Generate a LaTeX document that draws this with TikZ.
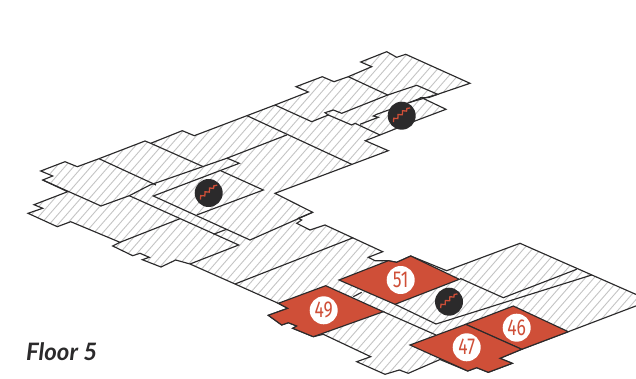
\documentclass[tikz,border=0pt]{standalone}
\usepackage{fontspec}
\setmainfont{Lato}
\newfontfamily\numfont[FakeStretch=0.76]{Fira Sans}
\definecolor{redroom}{HTML}{CF4F38}
\definecolor{ink}{HTML}{2B2A2B}
\definecolor{hatch}{HTML}{C4C4C4}
\tikzset{
  wall/.style={draw=ink,line width=1.15pt,line join=miter},
  roomfill/.style={fill=redroom,wall},
  stairdisc/.style={circle,fill=ink,minimum size=28pt,inner sep=0pt},
  numdisc/.style={circle,fill=white,minimum size=28pt,inner sep=0pt,text=redroom,font=\numfont\fontsize{23}{23}\selectfont},
  zig/.style={draw=redroom,line width=1.3pt}
}
\newcommand{\outline}{(42.7,180)--(52.7,176)--(40.7,171)--(65,161.7)--(77.3,166.7)--(99,158.7)--(145,141)--(150.7,143.3)--(182.3,130.7)--(194.3,135.7)--(275,105)--(308.3,92)--(296,86.7)--(322.3,76.7)--(334,81.7)--(348.3,76.7)--(371.7,66.7)--(360.7,62)--(386.7,51.7)--(396.7,57.3)--(405.7,54.3)--(470,83.3)--(437.7,94.3)--(429,97.5)--(421.7,97.7)--(446,109.3)--(415,121)--(380,135)--(365.3,140.7)--(388.3,150.7)--(275,193.3)--(312.7,212.3)--(298.3,218.3)--(301.7,220)--(296.7,223.3)--(310,230)--(325,225)--(382.7,251.7)--(368.3,257.3)--(375,260.7)--(388.3,260.7)--(396.7,262.3)--(410.7,256)--(446.7,270.7)--(520,243.3)--(650,300.6)--(568.3,331.7)--(521.7,349.3)--(500,358.3)--(512.3,363.3)--(488.3,372.3)--(476.7,367.7)--(467.7,371)--(440,359.5)--(408.3,373.3)--(399.3,370)--(385,374.3)--(356.7,361.7)--(370.7,356.7)--(323.3,334.3)--(313.3,336.7)--(292.7,328.3)--(296.7,326)--(288.3,322.7)--(281.7,325)--(268.3,315.3)--(287.7,308.3)--(278.3,303.3)--(235,284)--(190,264)--(175.7,260)--(161,267)--(142.3,259.7)--(149.3,257.3)--(140,253.3)--(132.7,255.7)--(112.7,246)--(120,242.3)--(70.7,221.7)--(57.3,226.7)--(28,213.3)--(42.7,208.3)--(34,204.7)--(67.7,191.7)--cycle}
\begin{document}
\begin{tikzpicture}[x=1pt,y=-1pt]
\useasboundingbox (0,0) rectangle (636,379);
\begin{scope}
  \clip \outline;
  \foreach \k in {-50,...,80}{
    \draw[hatch,line width=0.9pt] ({\k*8.7},400) -- ++(350,-400);
  }
\end{scope}
\draw[wall] \outline;
% inner walls, north wing
\draw[wall] (348.3,76.7)--(387.7,95)--(416.7,85.3)--(437.7,94.3)--(410,102.3)--(376.7,114.3)--(373.3,116)--(378.3,117.3)--(360,124.3);
\draw[wall] (387.7,95)--(341.7,113.3)--(333.3,110)--(325,112.7)--(328.3,115)--(311.7,121.7)--(275,105);
\draw[wall] (328.3,115)--(351.7,125)--(355,123.3)--(380,135);
\draw[wall] (421.7,97.7)--(410,102.3);
\draw[wall] (247,115.7)--(351.7,164.3);
\draw[wall] (286.7,135)--(226.7,158.3)--(150,185)--(129.3,195.7)--(101,206)--(42.7,180);
% inner walls, west wing
\draw[wall] (99,158.7)--(156,185);
\draw[wall] (150.7,143.3)--(203.3,166.7);
\draw[wall] (226.7,158)--(239.3,163.3)--(153.3,196)--(250,240)--(312.7,212.3);
\draw[wall] (220.7,170.7)--(263.3,190)--(196.7,215);
\draw[wall] (129.3,195.7)--(238.7,245)--(190,264);
\draw[wall] (180,218.7)--(120,242.3);
\draw[wall] (226,229.5)--(213.5,234.3);
\draw[wall] (235,284)--(353.3,237.7);
% inner walls, south wing
\draw[wall] (353.3,296.7)--(361.7,292.3);
\draw[wall] (395,304.3)--(436,324)--(591.7,275);
\draw[wall] (383.3,311.7)--(436,335);
\draw[wall] (460,278.3)--(503.3,297.7)--(576.7,269.3);
% coloured rooms
\draw[roomfill] (339,280)--(388.3,260.7)--(396.7,262.3)--(410.7,256)--(459.3,279.3)--(395,304.3)--cycle;
\draw[roomfill] (325.7,285.7)--(383.3,311.7)--(313.3,336.7)--(292.7,328.3)--(296.7,326)--(288.3,322.7)--(281.7,325)--(268.3,315.3)--(287.7,308.3)--(278.3,303.3)--cycle;
\draw[roomfill] (513.3,306)--(568.3,331.7)--(521.7,349.3)--(465.7,324.3)--cycle;
\draw[roomfill] (410,345)--(465.7,324.3)--(521.7,349.3)--(500,358.3)--(512.3,363.3)--(488.3,372.3)--(476.7,367.7)--(467.7,371)--cycle;
% number discs
\node[numdisc] (r51) at (400.7,280) {51};
\node[numdisc] (r49) at (323.7,310.3) {49};
\node[numdisc] (r46) at (516.7,327.7) {46};
\node[numdisc] (r47) at (466.7,347.3) {47};
% stair discs
\foreach \n/\x/\y in {sa/401.7/115.7,sb/208.7/193,sc/449/301.7}{
  \node[stairdisc] (\n) at (\x,\y) {};
  \draw[zig,shift={(\x,\y)}] (-8.3,6.5)--(-8,2.6)--(-3.9,2.9)--(-3.6,-1.2)--(0.6,-0.9)--(0.9,-5)--(4.8,-4.6)--(5.2,-7.2)--(8.5,-7.8);
}
\node[anchor=base west,inner sep=0pt,font=\fontsize{24}{24}\selectfont\bfseries\itshape,text=ink] (title) at (26,360.7) {Floor 5};
\end{tikzpicture}
\end{document}
